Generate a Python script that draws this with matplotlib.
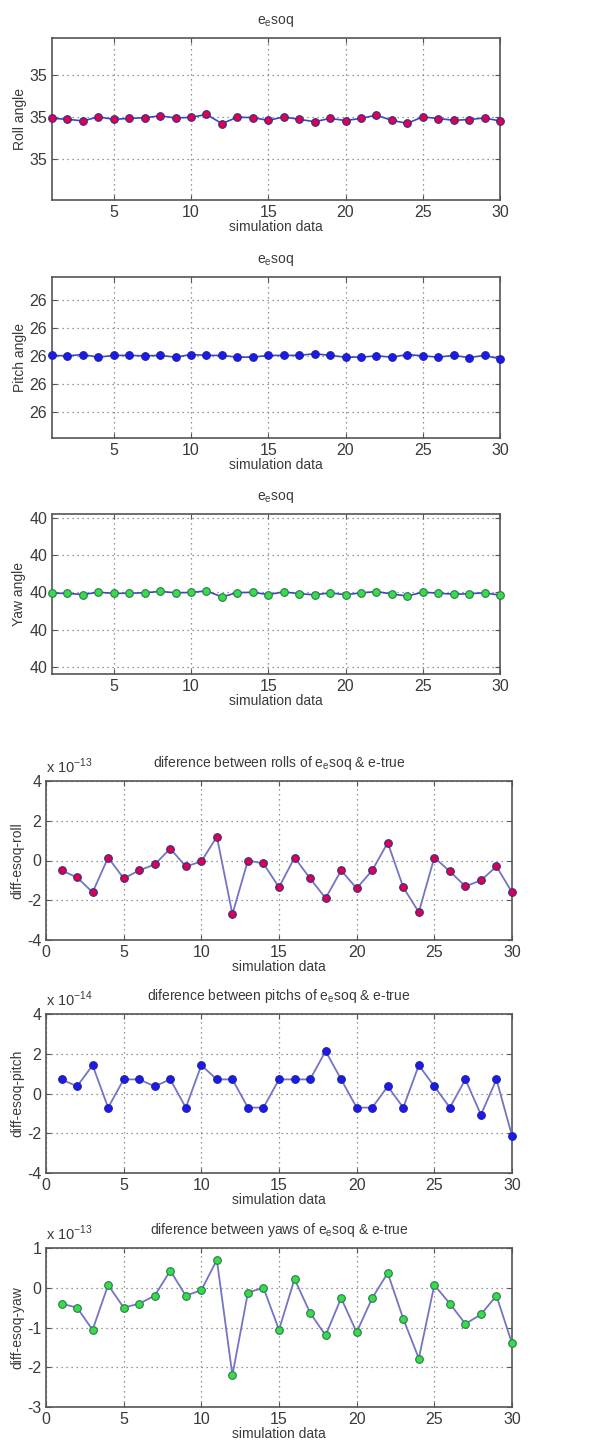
import matplotlib
matplotlib.use("Agg")
import matplotlib.pyplot as plt
import numpy as np

plt.rcParams["font.family"] = ["Liberation Sans", "DejaVu Sans"]
plt.rcParams["mathtext.fontset"] = "custom"
plt.rcParams["mathtext.rm"] = "Liberation Sans"

# sample index
samples = list(range(1, 31))

# true angles (deg) shown as tick labels in the upper panels
roll_true = 35
pitch_true = 26
yaw_true = 40

# e_esoq - e_true differences
roll_diff = [-0.5, -0.85, -1.6, 0.15, -0.9, -0.5, -0.2, 0.6, -0.3, -0.05,
             1.2, -2.7, 0.0, -0.15, -1.35, 0.15, -0.9, -1.9, -0.5, -1.4,
             -0.5, 0.9, -1.35, -2.6, 0.15, -0.55, -1.3, -1.0, -0.3, -1.6]      # x 1e-13
pitch_diff = [0.71, 0.36, 1.42, -0.71, 0.71, 0.71, 0.36, 0.71, -0.71, 1.42,
              0.71, 0.71, -0.71, -0.71, 0.71, 0.71, 0.71, 2.13, 0.71, -0.71,
              -0.71, 0.36, -0.71, 1.42, 0.36, -0.71, 0.71, -1.07, 0.71, -2.13]  # x 1e-14
yaw_diff = [-0.4, -0.5, -1.06, 0.07, -0.5, -0.4, -0.2, 0.43, -0.2, -0.06,
            0.7, -2.2, -0.12, 0.0, -1.06, 0.22, -0.63, -1.2, -0.26, -1.12,
            -0.26, 0.37, -0.78, -1.78, 0.07, -0.4, -0.91, -0.67, -0.2, -1.4]   # x 1e-13

TXT = "#3a3a3a"
AX = "#555555"
W, H = 604, 1446

fig = plt.figure(figsize=(W / 100, H / 100), dpi=100)


def box(l, t, r, b):
    return [l / W, 1 - b / H, (r - l) / W, (b - t) / H]


def style(ax, xlim, xticks):
    ax.set_xlim(*xlim)
    ax.set_xticks(xticks)
    ax.grid(True, linestyle=(0, (1, 3)), color="#777777", linewidth=0.9)
    ax.tick_params(direction="in", top=True, right=True, colors=AX,
                   labelcolor=TXT, labelsize=11.5, length=3.5)
    for s in ax.spines.values():
        s.set_color(AX)
        s.set_linewidth(1.2)
    ax.set_xlabel("simulation data", fontsize=10, color=TXT, labelpad=0)


esoq = r"e$_\mathregular{e}$soq"
line_top = "#3b46c8"
line_bot = "#7474c4"

upper = [
    (box(52, 38, 500, 200), roll_diff, roll_true, "Roll angle",
     [-18, 0, 18], (-35.4, 33.9), "#e0004a", "#303090"),
    (box(52, 277, 500, 438), pitch_diff, pitch_true, "Pitch angle",
     [-46, -23, 0, 23, 46], (-67, 65), "#1a1aee", "#2020a0"),
    (box(52, 514, 500, 674), yaw_diff, yaw_true, "Yaw angle",
     [-36, -18, 0, 18, 36], (-39.5, 37.9), "#38dc48", "#2a7a50"),
]

for rect, diff, base, ylab, yt, yl, fc, ec in upper:
    ax = fig.add_axes(rect)
    ax.plot(samples, diff, "-o", color=line_top, lw=1.2, ms=5.5,
            mfc=fc, mec=ec, mew=0.8, clip_on=False, zorder=3)
    style(ax, (1, 30), [5, 10, 15, 20, 25, 30])
    ax.set_ylim(*yl)
    ax.set_yticks(yt)
    ax.set_yticklabels([str(base)] * len(yt))
    ax.set_ylabel(ylab, fontsize=10, color=TXT, labelpad=2)
    ax.set_title(esoq, fontsize=10, color=TXT, pad=10)

lower = [
    (box(46, 781, 512, 940), roll_diff, "rolls", "diff-esoq-roll", -13,
     (-4, 4), [-4, -2, 0, 2, 4], "#e0004a", "#303090"),
    (box(46, 1014, 512, 1173), pitch_diff, "pitchs", "diff-esoq-pitch", -14,
     (-4, 4), [-4, -2, 0, 2, 4], "#1a1aee", "#2020a0"),
    (box(46, 1248, 512, 1407), yaw_diff, "yaws", "diff-esoq-yaw", -13,
     (-3, 1), [-3, -2, -1, 0, 1], "#38dc48", "#2a7a50"),
]

for rect, diff, name, ylab, exp, yl, yt, fc, ec in lower:
    ax = fig.add_axes(rect)
    ax.plot(samples, diff, "-o", color=line_bot, lw=1.3, ms=5.5,
            mfc=fc, mec=ec, mew=0.8, clip_on=False, zorder=3)
    style(ax, (0, 30), [0, 5, 10, 15, 20, 25, 30])
    ax.set_ylim(*yl)
    ax.set_yticks(yt)
    ax.set_yticklabels([str(v) for v in yt])
    ax.set_ylabel(ylab, fontsize=10, color=TXT, labelpad=2)
    ax.set_title("diference between %s of %s & e-true" % (name, esoq),
                 fontsize=10, color=TXT, pad=10)
    ax.text(0.0, 1.03, r"x 10$^{%d}$" % exp, transform=ax.transAxes,
            fontsize=10.5, color=TXT, ha="left", va="bottom")

fig.savefig("out.png", dpi=100)
